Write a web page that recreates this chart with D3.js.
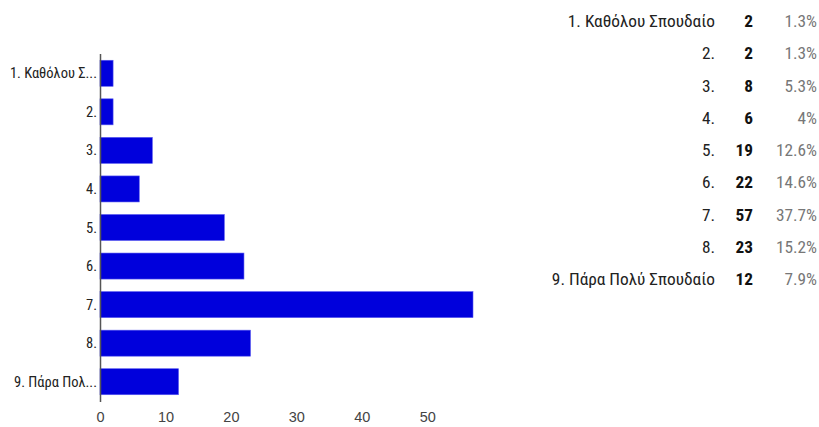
<!DOCTYPE html>
<html><head><meta charset="utf-8">
<script src="https://cdn.jsdelivr.net/npm/d3@7"></script>
<style>
html,body{margin:0;padding:0;background:#fff;}
svg{display:block;font-family:"Liberation Sans Narrow","Arial Narrow","Roboto Condensed",sans-serif;}
</style></head>
<body><svg id="c" width="819" height="427"></svg>
<script>
const categories = ["1. Καθόλου Σ...","2.","3.","4.","5.","6.","7.","8.","9. Πάρα Πολ..."];
const tableLabels = ["1. Καθόλου Σπουδαίο","2.","3.","4.","5.","6.","7.","8.","9. Πάρα Πολύ Σπουδαίο"];
const counts = [2,2,8,6,19,22,57,23,12];
const percents = ["1.3%","1.3%","5.3%","4%","12.6%","14.6%","37.7%","15.2%","7.9%"];
const xTicks = [0,10,20,30,40,50];

const svg = d3.select("#c");
const x = d3.scaleLinear().domain([0,57]).range([100,473]);
const y = d3.scaleBand().domain(categories).range([54,401]).paddingInner(0.325).paddingOuter(0.1625);

svg.append("g").selectAll("rect").data(categories).join("rect")
  .attr("x", x(0)).attr("y", d=>y(d))
  .attr("width", (d,i)=>x(counts[i])-x(0)).attr("height", y.bandwidth())
  .attr("fill","#0000dc").attr("stroke","#5a5af0").attr("stroke-width",0.6);

// left category labels
svg.append("g").selectAll("text").data(categories).join("text")
  .attr("x", 97).attr("y", d=>y(d)+y.bandwidth()/2).attr("dy","0.35em")
  .attr("text-anchor","end").attr("font-size",14.5).attr("fill","#222").text(d=>d);

// vertical axis line
svg.append("line").attr("x1",100.5).attr("x2",100.5).attr("y1",54).attr("y2",402)
  .attr("stroke","#555").attr("stroke-width",1.5);

// x tick labels
const xa = d3.axisBottom(x).tickValues(xTicks).tickSize(0).tickPadding(0);
const gx = svg.append("g").attr("transform","translate(0,412)").call(xa);
gx.select(".domain").remove();
gx.selectAll("text").attr("font-size",14.5).attr("fill","#444").attr("font-family",null);

// right table
const rowY = d3.scalePoint().domain(d3.range(9)).range([21,279]);
const tg = svg.append("g");
tg.selectAll(".lab").data(tableLabels).join("text").attr("class","lab")
  .attr("x",715).attr("y",(d,i)=>rowY(i)).attr("dy","0.35em").attr("text-anchor","end")
  .attr("font-size",17.3).attr("fill","#222").text(d=>d);
tg.selectAll(".cnt").data(counts).join("text").attr("class","cnt")
  .attr("x",753).attr("y",(d,i)=>rowY(i)).attr("dy","0.35em").attr("text-anchor","end")
  .attr("font-size",17.3).attr("font-weight","bold").attr("fill","#111").text(d=>d);
tg.selectAll(".pct").data(percents).join("text").attr("class","pct")
  .attr("x",817).attr("y",(d,i)=>rowY(i)).attr("dy","0.35em").attr("text-anchor","end")
  .attr("font-size",17.3).attr("fill","#777").text(d=>d);
</script></body></html>
